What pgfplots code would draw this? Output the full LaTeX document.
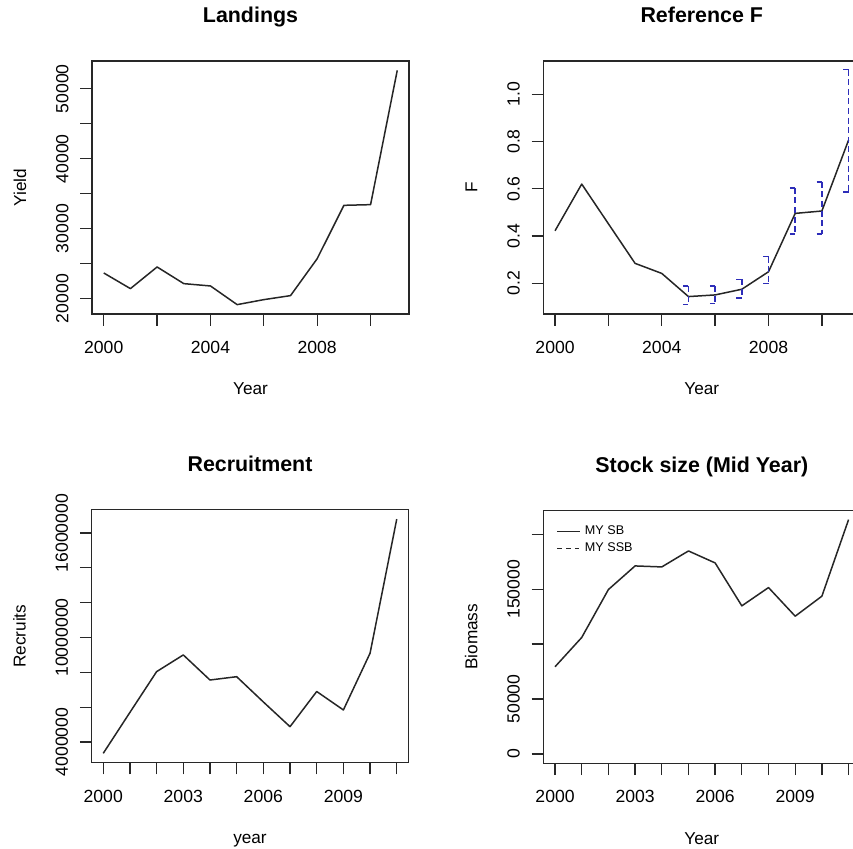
\documentclass[border=0pt]{standalone}
\usepackage{fontspec}
\setmainfont{Liberation Sans}
\usepackage{pgfplots}
\pgfplotsset{compat=1.18}
\definecolor{cibl}{RGB}{45,45,185}
\definecolor{frm}{RGB}{40,40,40}
\definecolor{ln}{RGB}{38,38,38}
\pgfplotsset{
  rpanel/.style={
    scale only axis, width=158.5pt, height=126.5pt,
    anchor=south west,
    axis line style={frm, line width=0.7pt},
    tick style={frm, line width=0.65pt},
    tick align=outside, major tick length=5.85pt,
    xtick pos=left, ytick pos=left,
    /pgf/number format/assume math mode=true,
    ticklabel style={font=\fontsize{8.8}{10}\selectfont, text=black},
    xticklabel style={anchor=base},
    xticklabel shift=13.8pt,
    yticklabel style={rotate=90, anchor=base},
    yticklabel shift=6pt,
    scaled ticks=false,
    every axis title/.style={at={(axis description cs:0.5,1.151)}, anchor=base, font=\bfseries\fontsize{10.7}{12}\selectfont},
    every axis x label/.style={at={(axis description cs:0.5,-0.32)}, anchor=base, font=\fontsize{8.6}{10}\selectfont},
    every axis y label/.style={at={(axis description cs:-0.208,0.5)}, anchor=base, rotate=90, font=\fontsize{8.6}{10}\selectfont},
    xmin=1999.56, xmax=2011.44,
  },
  ser/.style={ln, no marks, line width=0.75pt, line join=round},
}
\begin{document}
\begin{tikzpicture}
\useasboundingbox (0,0) rectangle (426.5pt,424pt);
\clip (0,0) rectangle (426.5pt,424pt);
% Landings
\begin{axis}[rpanel, at={(46pt,267pt)},
  title={Landings}, xlabel={Year}, ylabel={Yield},
  ymin=17804, ymax=53958,
  xtick={2000,2002,2004,2006,2008,2010}, xticklabels={2000,,2004,,2008,},
  ytick={20000,25000,30000,35000,40000,45000,50000},
  yticklabels={20000,,30000,,40000,,50000}]
\addplot[ser] coordinates {(2000,23667) (2001,21430) (2002,24524) (2003,22143) (2004,21810) (2005,19143) (2006,19857) (2007,20430) (2008,25714) (2009,33333) (2010,33430) (2011,52619)};
\end{axis}
% Reference F
\begin{axis}[rpanel, at={(271.65pt,267pt)},
  title={Reference F}, xlabel={Year}, ylabel={F},
  ymin=0.0703, ymax=1.1407,
  xtick={2000,2002,2004,2006,2008,2010}, xticklabels={2000,,2004,,2008,},
  ytick={0.2,0.4,0.6,0.8,1.0}, yticklabels={0.2,0.4,0.6,0.8,1.0},
  unbounded coords=jump]
\addplot[ser] coordinates {(2000,0.4225) (2001,0.62) (2002,0.452) (2003,0.2845) (2004,0.242) (2005,0.144) (2006,0.151) (2007,0.175) (2008,0.249) (2009,0.496) (2010,0.506) (2011,0.806)};
% vertical dashed parts of the interval brackets
\addplot[cibl, no marks, line width=0.8pt, dash pattern=on 3pt off 1.8pt] coordinates {
 (2005,0.189) (2005,0.111) (2005,nan)
 (2006,0.189) (2006,0.115) (2006,nan)
 (2007,0.217) (2007,0.137) (2007,nan)
 (2008,0.313) (2008,0.200) (2008,nan)
 (2009,0.604) (2009,0.408) (2009,nan)
 (2010,0.630) (2010,0.408) (2010,nan)
 (2011,1.104) (2011,0.587)};
% caps of the interval brackets
\addplot[cibl, no marks, line width=0.8pt] coordinates {
 (2004.8,0.189) (2005,0.189) (2005,nan) (2004.8,0.111) (2005,0.111) (2005,nan)
 (2005.8,0.189) (2006,0.189) (2006,nan) (2005.8,0.115) (2006,0.115) (2006,nan)
 (2006.8,0.217) (2007,0.217) (2007,nan) (2006.8,0.137) (2007,0.137) (2007,nan)
 (2007.8,0.313) (2008,0.313) (2008,nan) (2007.8,0.200) (2008,0.200) (2008,nan)
 (2008.8,0.604) (2009,0.604) (2009,nan) (2008.8,0.408) (2009,0.408) (2009,nan)
 (2009.8,0.630) (2010,0.630) (2010,nan) (2009.8,0.408) (2010,0.408) (2010,nan)
 (2010.8,1.104) (2011,1.104) (2011,nan) (2010.8,0.587) (2011,0.587)};
\end{axis}
% Recruitment
\begin{axis}[rpanel, at={(45.75pt,42.65pt)},
  title={Recruitment}, xlabel={year}, ylabel={Recruits},
  ymin=2812000, ymax=17338000,
  xtick={2000,...,2011}, xticklabels={2000,,,2003,,,2006,,,2009,,},
  ytick={4000000,6000000,8000000,10000000,12000000,14000000,16000000},
  yticklabels={4000000,,,10000000,,,16000000}]
\addplot[ser] coordinates {(2000,3350000) (2001,5700000) (2002,8040000) (2003,9000000) (2004,7560000) (2005,7750000) (2006,6300000) (2007,4880000) (2008,6900000) (2009,5840000) (2010,9100000) (2011,16800000)};
\end{axis}
% Stock size
\begin{axis}[rpanel, at={(271.65pt,42.35pt)},
  title={Stock size (Mid Year)}, xlabel={Year}, ylabel={Biomass},
  ymin=-8533, ymax=221866,
  xtick={2000,...,2011}, xticklabels={2000,,,2003,,,2006,,,2009,,},
  ytick={0,50000,100000,150000,200000}, yticklabels={0,50000,,150000,},
  legend style={at={(axis description cs:0.035,0.965)}, anchor=north west, draw=none, fill=none,
    font=\fontsize{6.3}{7}\selectfont, row sep=-1.5pt, inner sep=1pt,
    legend cell align=left},
  legend image code/.code={\draw[#1, line width=0.6pt] (0pt,0pt) -- (11.5pt,0pt);}]
\addplot[ser] coordinates {(2000,79394) (2001,106060) (2002,149697) (2003,171212) (2004,170303) (2005,184848) (2006,173939) (2007,134848) (2008,151515) (2009,125454) (2010,143636) (2011,213333)};
\addlegendentry{MY SB}
\addlegendimage{ln, dash pattern=on 2.2pt off 2.2pt}
\addlegendentry{MY SSB}
\end{axis}
\end{tikzpicture}
\end{document}
